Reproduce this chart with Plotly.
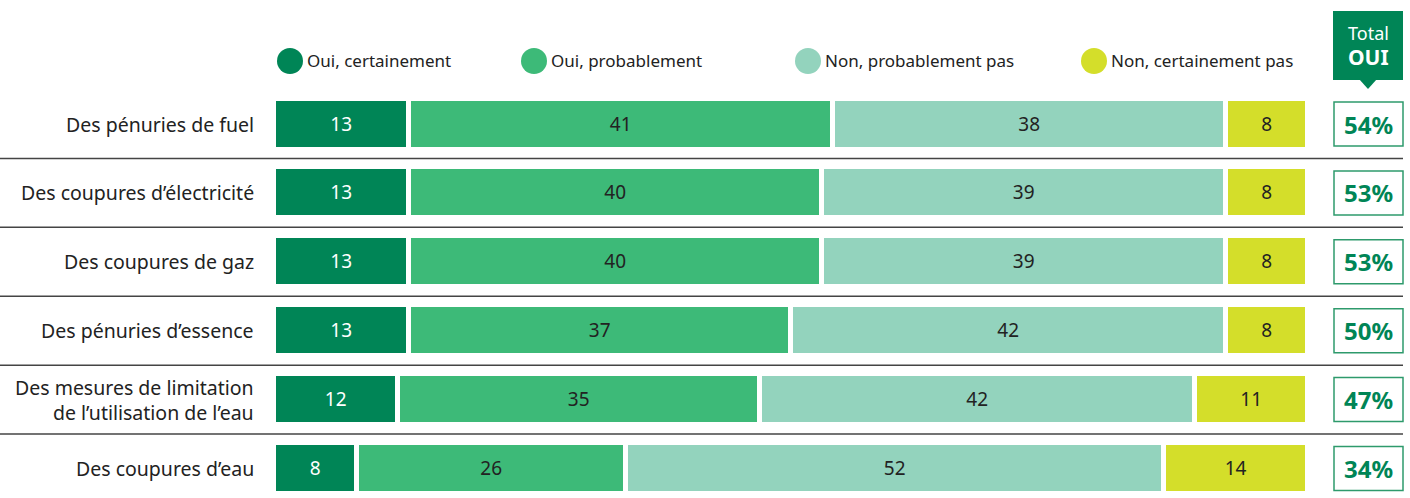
import plotly.graph_objects as go

W, H = 1410, 498

categories = [
    "Des pénuries de fuel",
    "Des coupures d’électricité",
    "Des coupures de gaz",
    "Des pénuries d’essence",
    "Des mesures de limitation<br>de l’utilisation de l’eau",
    "Des coupures d’eau",
]
series_names = ["Oui, certainement", "Oui, probablement", "Non, probablement pas", "Non, certainement pas"]
oui_certainement = [13, 13, 13, 13, 12, 8]
oui_probablement = [41, 40, 40, 37, 35, 26]
non_probablement = [38, 39, 39, 42, 42, 52]
non_certainement = [8, 8, 8, 8, 11, 14]
total_oui = ["54%", "53%", "53%", "50%", "47%", "34%"]

colors = ["#008556", "#3dba78", "#93d3bd", "#d4de2a"]
text_colors = ["#ffffff", "#222222", "#222222", "#222222"]
FONT = "Noto Sans"

# pixel geometry helpers
ROW0, ROWSTEP = 124, 68.9
y_top = (0 - ROW0) / ROWSTEP
y_bot = (H - ROW0) / ROWSTEP
X0_PX, X100_PX = 274.5, 1308.5
XSCALE = (X100_PX - X0_PX) / 100.0


def px(x):
    return x / W


def py(y):
    return 1 - y / H


ypos = list(range(len(categories)))
fig = go.Figure()
for name, vals, col, tcol in zip(series_names,
                                 [oui_certainement, oui_probablement, non_probablement, non_certainement],
                                 colors, text_colors):
    fig.add_trace(go.Bar(
        y=ypos, x=vals, name=name, orientation="h",
        marker=dict(color=col, line=dict(color="white", width=5)),
        width=51 / ROWSTEP,
        text=[str(v) for v in vals], textposition="inside", insidetextanchor="middle",
        constraintext="none",
        textfont=dict(family=FONT, size=19, color=tcol),
        hoverinfo="skip", showlegend=False,
    ))

shapes = []
annotations = []

# row labels
for i, c in enumerate(categories):
    annotations.append(dict(xref="paper", yref="y", x=px(256), y=i, text=c, showarrow=False,
                            xanchor="right", yanchor="middle", align="right",
                            font=dict(family=FONT, size=19.5, color="#222222")))
# separators
for i in range(len(categories) - 1):
    shapes.append(dict(type="line", xref="paper", yref="y", x0=0, x1=px(1403), y0=i + 0.5, y1=i + 0.5,
                       line=dict(color="#444444", width=1.5)))
# total boxes
for i, t in enumerate(total_oui):
    shapes.append(dict(type="rect", xref="paper", yref="y", x0=px(1334), x1=px(1403),
                       y0=i - 22 / ROWSTEP, y1=i + 22 / ROWSTEP,
                       line=dict(color="#2e9a6c", width=1.5), fillcolor="white"))
    annotations.append(dict(xref="paper", yref="y", x=px(1368.5), y=i, text="<b>" + t + "</b>",
                            showarrow=False, xanchor="center", yanchor="middle",
                            font=dict(family=FONT, size=24, color="#008556")))

# header box
shapes.append(dict(type="rect", xref="paper", yref="paper", x0=px(1333), x1=px(1403), y0=py(80), y1=py(11),
                   line=dict(width=0), fillcolor="#008556"))
shapes.append(dict(type="path", xref="paper", yref="paper",
                   path=f"M {px(1359)} {py(79)} L {px(1377)} {py(79)} L {px(1368)} {py(89)} Z",
                   line=dict(width=0), fillcolor="#008556"))
annotations.append(dict(xref="paper", yref="paper", x=px(1368), y=py(20), text="Total", showarrow=False,
                        xanchor="center", yanchor="top", borderpad=0,
                        font=dict(family=FONT, size=18, color="white")))
annotations.append(dict(xref="paper", yref="paper", x=px(1368), y=py(72), text="<b>OUI</b>", showarrow=False,
                        xanchor="center", yanchor="bottom", borderpad=0,
                        font=dict(family=FONT, size=21, color="white")))

# legend
leg_x = [290, 534, 808, 1094]
for x, name, col in zip(leg_x, series_names, colors):
    shapes.append(dict(type="circle", xref="paper", yref="paper", x0=px(x - 13), x1=px(x + 13),
                       y0=py(74), y1=py(48), line=dict(width=0), fillcolor=col))
    annotations.append(dict(xref="paper", yref="paper", x=px(x + 15), y=py(61), text=name, showarrow=False,
                            xanchor="left", yanchor="middle", font=dict(family=FONT, size=17, color="#222222")))

# x axis: data range padded by 1 unit each side so the white bar outlines are not clipped
fig.update_layout(
    barmode="stack", width=W, height=H, margin=dict(l=0, r=0, t=0, b=0),
    paper_bgcolor="white", plot_bgcolor="white", bargap=0,
    xaxis=dict(domain=[px(X0_PX - XSCALE), px(X100_PX + XSCALE)], range=[-1, 101],
               visible=False, fixedrange=True),
    yaxis=dict(range=[y_bot, y_top], visible=False, fixedrange=True),
    shapes=shapes, annotations=annotations, showlegend=False,
)

fig.write_html("out.html", config={"displayModeBar": False},
               post_script="document.body.style.margin='0';document.body.style.padding='0';")
